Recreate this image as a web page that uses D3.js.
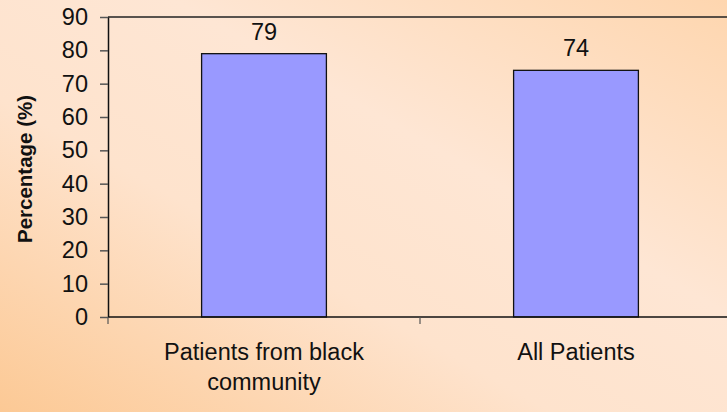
<!DOCTYPE html>
<html>
<head>
<meta charset="utf-8">
<script src="https://cdn.jsdelivr.net/npm/d3@7"></script>
<style>
  html, body { margin: 0; padding: 0; overflow: hidden; }
  svg { display: block; }
  text { font-family: "Liberation Sans", Arial, sans-serif; fill: #111; }
</style>
</head>
<body>
<svg id="chart" width="727" height="412"></svg>
<script>
// Share of patients, by group (%)
const categories = ["Patients from black community", "All Patients"];
const categoryLines = [["Patients from black", "community"], ["All Patients"]];
const values = [79, 74];
const yTicks = [0, 10, 20, 30, 40, 50, 60, 70, 80, 90];
const yTitle = "Percentage (%)";

const W = 727, H = 412;
const margin = { left: 108, top: 17, bottom: 95 };
const plotRight = 732;
const fontSize = 23.5;

const svg = d3.select("#chart");

// Peach diagonal background
const defs = svg.append("defs");
const grad = defs.append("linearGradient")
  .attr("id", "bg")
  .attr("x1", "0").attr("y1", "1").attr("x2", "1").attr("y2", "0");
grad.append("stop").attr("offset", "0").attr("stop-color", "#fcc995");
grad.append("stop").attr("offset", "0.38").attr("stop-color", "#fee3cd");
grad.append("stop").attr("offset", "0.62").attr("stop-color", "#fee6d4");
grad.append("stop").attr("offset", "1").attr("stop-color", "#fed6af");
svg.append("rect").attr("width", W).attr("height", H).attr("fill", "url(#bg)");

const x = d3.scaleBand().domain(categories).range([margin.left, plotRight]).padding(0);
const y = d3.scaleLinear().domain([0, 90]).range([H - margin.bottom, margin.top]);

const barW = x.bandwidth() * 0.4;

// Top frame line
svg.append("line")
  .attr("x1", margin.left).attr("x2", W)
  .attr("y1", y(90)).attr("y2", y(90))
  .attr("stroke", "#222").attr("stroke-width", 1.5);

// Bars
svg.selectAll("rect.bar")
  .data(categories)
  .join("rect")
  .attr("class", "bar")
  .attr("x", (d) => x(d) + (x.bandwidth() - barW) / 2)
  .attr("y", (d, i) => y(values[i]))
  .attr("width", barW)
  .attr("height", (d, i) => y(0) - y(values[i]))
  .attr("fill", "#9999ff")
  .attr("stroke", "#111")
  .attr("stroke-width", 1.3);

// Value labels
svg.selectAll("text.val")
  .data(categories)
  .join("text")
  .attr("class", "val")
  .attr("x", (d) => x(d) + x.bandwidth() / 2)
  .attr("y", (d, i) => y(values[i]) - 14)
  .attr("text-anchor", "middle")
  .attr("font-size", fontSize)
  .text((d, i) => values[i]);

// Y axis
const yAxis = svg.append("g")
  .attr("transform", `translate(${margin.left},0)`)
  .call(d3.axisLeft(y).tickValues(yTicks).tickSize(8).tickPadding(12).tickSizeOuter(0));
yAxis.select(".domain").attr("stroke", "#111").attr("stroke-width", 1.5);
yAxis.selectAll(".tick line").attr("stroke", "#555").attr("stroke-width", 1.5);
yAxis.selectAll(".tick text")
  .attr("font-size", fontSize)
  .attr("font-family", "Liberation Sans, Arial, sans-serif")
  .attr("fill", "#111");

// X axis line with boundary ticks
svg.append("line")
  .attr("x1", margin.left).attr("x2", W)
  .attr("y1", y(0)).attr("y2", y(0))
  .attr("stroke", "#111").attr("stroke-width", 1.5);
const boundaries = categories.map((d) => x(d)).concat([x(categories[categories.length - 1]) + x.bandwidth()]);
svg.selectAll("line.xtick")
  .data(boundaries)
  .join("line")
  .attr("class", "xtick")
  .attr("x1", (d) => d).attr("x2", (d) => d)
  .attr("y1", y(0)).attr("y2", y(0) + 7)
  .attr("stroke", "#555").attr("stroke-width", 1.2);

// Category labels
const cat = svg.selectAll("text.cat")
  .data(categories)
  .join("text")
  .attr("class", "cat")
  .attr("text-anchor", "middle")
  .attr("font-size", fontSize)
  .attr("y", y(0) + 43);
cat.each(function (d, i) {
  const t = d3.select(this);
  categoryLines[i].forEach((line, j) => {
    t.append("tspan")
      .attr("x", x(d) + x.bandwidth() / 2)
      .attr("dy", j === 0 ? 0 : 30)
      .text(line);
  });
});

// Y axis title
svg.append("text")
  .attr("transform", `translate(32,${(y(0) + y(90)) / 2 + 2}) rotate(-90)`)
  .attr("text-anchor", "middle")
  .attr("font-size", 20.5)
  .attr("font-weight", "bold")
  .text(yTitle);
</script>
</body>
</html>
